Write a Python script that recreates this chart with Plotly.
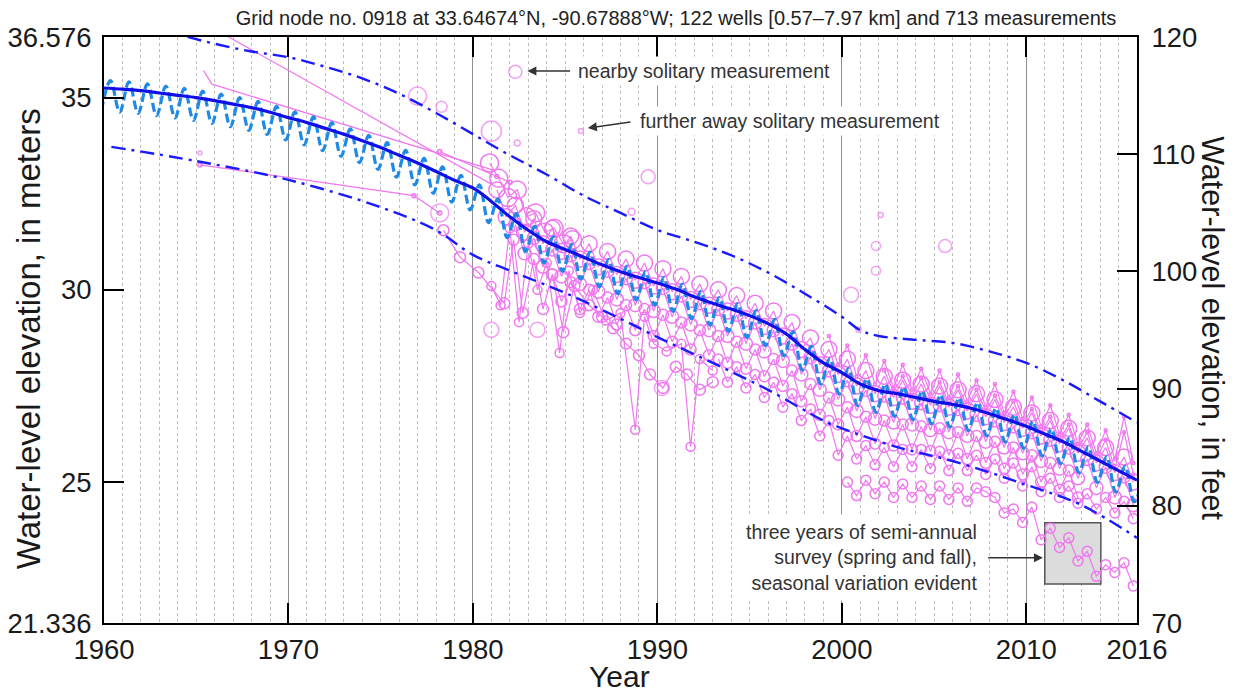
import plotly.graph_objects as go

# ---------------- axes ----------------
x_range = [1960, 2016]
x_tick_vals = [1960, 1970, 1980, 1990, 2000, 2010, 2016]
y_m_range = [21.336, 36.576]
y_m_tick_vals = [21.336, 25, 30, 35, 36.576]
y_m_tick_text = ["21.336", "25", "30", "35", "36.576"]
y_ft_range = [70, 120]
y_ft_tick_vals = [70, 80, 90, 100, 110, 120]

# ---------------- smooth trend (m) ----------------
trend_years = list(range(1960, 2017))
trend_vals = [35.25, 35.22, 35.18, 35.12, 35.06, 35.0, 34.92, 34.83, 34.74, 34.62,
              34.48, 34.35, 34.2, 34.05, 33.88, 33.7, 33.5, 33.3, 33.08, 32.85,
              32.65, 32.3, 31.9, 31.55, 31.25, 31.05, 30.85, 30.65, 30.47, 30.32,
              30.18, 30.02, 29.82, 29.65, 29.5, 29.33, 29.12, 28.85, 28.45, 28.1,
              27.85, 27.55, 27.38, 27.3, 27.2, 27.1, 27.02, 26.92, 26.78, 26.62,
              26.45, 26.25, 26.05, 25.8, 25.55, 25.3, 25.05]

# ---------------- seasonal curve: spring highs and fall lows ----------------
season_peak_years = list(range(1960, 2017))      # measured at year + 0.35
season_peak_vals = [35.44, 35.41, 35.36, 35.30, 35.24, 35.17, 35.09, 35.0, 34.9, 34.77,
                    34.63, 34.5, 34.35, 34.19, 34.02, 33.83, 33.63, 33.42, 33.2, 32.98,
                    32.73, 32.36, 31.98, 31.65, 31.38, 31.18, 30.98, 30.79, 30.62, 30.47,
                    30.32, 30.15, 29.96, 29.8, 29.64, 29.46, 29.23, 28.91, 28.53, 28.21,
                    27.95, 27.69, 27.55, 27.47, 27.37, 27.27, 27.19, 27.07, 26.92, 26.76,
                    26.58, 26.38, 26.16, 25.91, 25.66, 25.41, 25.16]
season_trough_years = list(range(1959, 2016))    # measured at year + 0.85
season_trough_vals = [34.65, 34.62, 34.59, 34.53, 34.47, 34.41, 34.33, 34.24, 34.15, 34.04,
                      33.90, 33.77, 33.62, 33.47, 33.31, 33.13, 32.93, 32.73, 32.51, 32.28,
                      32.08, 31.75, 31.36, 31.0, 30.7, 30.48, 30.28, 30.08, 29.9, 29.74,
                      29.6, 29.44, 29.25, 29.08, 28.92, 28.76, 28.55, 28.29, 27.91, 27.55,
                      27.29, 26.99, 26.81, 26.71, 26.62, 26.52, 26.43, 26.34, 26.2, 26.04,
                      25.88, 25.68, 25.48, 25.24, 24.99, 24.74, 24.49]

# ---------------- confidence bounds ----------------
upper_years = [1960, 1962, 1964, 1966, 1968, 1970, 1972, 1974, 1976, 1978, 1980, 1982,
               1984, 1986, 1988, 1990, 1992, 1994, 1996, 1998, 2000, 2001, 2002, 2004,
               2006, 2008, 2010, 2012, 2014, 2016]
upper_vals = [37.2, 36.95, 36.65, 36.4, 36.2, 36.05, 35.8, 35.5, 35.1, 34.6, 34.05, 33.5,
              33.0, 32.45, 32.0, 31.56, 31.25, 30.9, 30.45, 29.9, 29.3, 28.95, 28.8, 28.7,
              28.62, 28.4, 28.1, 27.65, 27.1, 26.55]
lower_years = [1960.4, 1965, 1970, 1975, 1978, 1980, 1982, 1985, 1988, 1990, 1993, 1996,
               1999, 2000, 2003, 2006, 2010, 2013, 2016]
lower_vals = [33.72, 33.35, 32.86, 32.15, 31.55, 30.91, 30.5, 29.92, 29.25, 28.77, 28.1,
              27.4, 26.6, 26.4, 25.91, 25.55, 24.93, 24.4, 23.55]

# ---------------- well records (semi-annual, first date + values) ----------------
w1_start = 1981.3
w1_vals = [32.6, 31.9, 32.2, 31.5, 31.85, 31.2, 31.6, 31.0, 31.4, 30.8, 31.2, 30.6,
           31.0, 30.4, 30.8, 30.25, 30.7, 30.1, 30.55, 29.95, 30.35, 29.75, 30.15, 29.6,
           30.0, 29.45, 29.85, 29.25, 29.65, 29.05, 29.45, 28.8, 29.15, 28.45, 28.75, 28.05,
           28.45, 27.8, 28.2, 27.5, 27.9, 27.3, 27.75, 27.2, 27.65, 27.1, 27.55, 27.0,
           27.5, 26.95, 27.4, 26.85, 27.3, 26.7, 27.15, 26.55, 26.95, 26.4, 26.8, 26.2,
           26.6, 26.0, 26.4, 25.75, 26.15, 25.5, 25.9, 25.25, 25.65, 25.0]
w2_start = 1999.3
w2_vals = [28.8, 28.05, 28.55, 27.75, 28.3, 27.55, 28.15, 27.45, 28.05, 27.4, 27.95, 27.3,
           27.9, 27.2, 27.8, 27.1, 27.65, 26.95, 27.55, 26.8, 27.35, 26.65, 27.2, 26.45,
           27.0, 26.25, 26.75, 26.0, 26.5, 25.75, 26.35, 25.6, 26.7, 25.5]
w2b_start = 2002.3
w2b_vals = [27.9, 27.35, 27.75, 27.25, 27.7, 27.15, 27.6, 27.05, 27.5, 26.95, 27.4, 26.85,
            27.25, 26.7, 27.1, 26.5, 26.9, 26.3, 26.7, 26.1, 26.5, 25.85, 26.3, 25.6,
            26.1, 25.35, 26.3, 25.2]
w3_start = 1982.3
w3_vals = [31.7, 30.95, 31.35, 30.6, 31.05, 30.35, 30.9, 30.15, 30.7, 29.95, 30.5, 29.75,
           30.3, 29.6, 30.2, 29.45, 30.05, 29.3, 29.85, 29.1, 29.65, 28.95, 29.5, 28.8,
           29.35, 28.6, 29.15, 28.4, 28.95, 28.15, 28.6, 27.8, 28.25, 27.4, 27.9, 27.15,
           27.65, 26.85, 27.4, 26.65, 27.25, 26.55, 27.2, 26.5, 27.05, 26.35, 27.0, 26.3,
           26.9, 26.2, 26.75, 26.05, 26.6, 25.9, 26.45, 25.75, 26.3, 25.55, 26.1, 25.35,
           25.9, 25.1, 25.6, 24.85, 25.4, 24.6, 25.15, 24.4]
w4_start = 1984.3
w4_vals = [30.4, 29.7, 30.2, 29.5, 30.0, 29.3, 29.8, 29.1, 29.6, 28.95, 29.5, 28.8,
           29.35, 28.65, 29.15, 28.45, 28.95, 28.3, 28.8, 28.1, 28.65, 27.95, 28.45, 27.75,
           28.2, 27.5, 27.9, 27.1, 27.55, 26.75, 27.2, 26.5, 26.95, 26.2, 26.7, 26.0,
           26.6, 25.95, 26.5, 25.85, 26.45, 25.8, 26.4, 25.7, 26.3, 25.6, 26.2, 25.5,
           26.05, 25.35, 25.9, 25.2, 25.7, 25.0, 25.5, 24.8, 25.3, 24.6]
w5_start = 1993.3
w5_vals = [28.2, 27.6, 28.0, 27.45, 27.8, 27.2, 27.6, 26.95, 27.3, 26.6, 26.9, 26.2,
           26.6, 25.7, 26.2, 25.6, 25.95, 25.45, 25.9, 25.4, 25.85, 25.4, 25.85, 25.35,
           25.8, 25.3, 25.75, 25.3, 25.7, 25.2, 25.6, 25.1, 25.5, 24.9, 25.4, 24.75,
           25.1, 24.6, 24.9, 24.45, 24.7, 24.3, 24.6, 24.2, 24.5, 24.05]
w6_start = 2000.3
w6_vals = [25.0, 24.65, 25.05, 24.7, 25.0, 24.6, 24.95, 24.6, 24.9, 24.55, 24.9, 24.55,
           24.85, 24.5, 24.85, 24.75, 24.6, 24.2, 24.3, 23.95, 24.35, 23.5, 23.8, 23.3,
           23.55, 22.95, 23.2, 22.55, 22.85, 22.65, 22.9, 22.3]

# ---------------- irregular well records ----------------
w7_years = [1981.0, 1981.5, 1982.0, 1982.5, 1983.0, 1983.5, 1984.0, 1984.7, 1985.2, 1985.8,
            1986.5, 1987.2, 1988.0, 1988.8, 1989.3, 1989.8, 1990.5, 1991.3, 1991.8, 1992.3,
            1993.0]
w7_vals = [30.1, 29.6, 31.6, 29.16, 31.2, 30.0, 30.7, 28.36, 30.5, 29.4, 30.0, 29.2, 29.4,
           26.36, 29.3, 28.6, 28.4, 28.6, 25.92, 28.2, 27.9]
w8_years = [1978.4, 1979.3, 1980.3, 1981.7, 1982.2, 1982.7, 1983.3, 1983.8, 1984.3, 1984.9,
            1985.5, 1986.3, 1987.0, 1987.6, 1988.3, 1989.0, 1989.6, 1990.3, 1991.0, 1991.6,
            1992.3, 1993.0]
w8_vals = [31.55, 30.85, 30.45, 29.65, 31.3, 29.4, 30.8, 29.5, 30.4, 28.9, 30.1, 29.6, 29.3,
           29.0, 28.6, 28.3, 27.8, 27.45, 28.0, 27.8, 27.4, 27.6]
w9_years = [1980.9, 1981.4, 1981.9, 1982.4, 1982.9, 1983.4, 1983.9, 1984.4, 1984.9, 1985.4]
w9_vals = [33.3, 32.9, 32.4, 32.6, 31.9, 32.0, 31.5, 31.6, 31.2, 31.3]

e1_years = [1966.3, 1981.0]
e1_vals = [36.7, 32.75]
e2_years = [1965.4, 1965.85, 1981.2]
e2_vals = [35.7, 35.35, 33.1]
e3_years = [1965.2, 1976.8, 1978.2]
e3_vals = [33.25, 32.45, 32.0]
e4_years = [1978.2, 1981.3, 1982.0]
e4_vals = [33.6, 32.95, 32.8]

solo_years = [1977.0, 1978.3, 1978.2, 1981.0, 1982.4, 1982.3, 1985.85, 1989.5, 1988.6,
              1981.0, 1983.5, 1990.25, 2000.5, 2001.85, 2001.85, 2002.1, 2005.6, 2000.9,
              1965.2]
solo_vals = [35.04, 34.76, 32.0, 34.13, 33.82, 35.67, 34.13, 32.94, 32.03,
             28.96, 28.96, 27.45, 29.87, 30.5, 31.14, 31.95, 31.14, 28.96, 33.56]
solo_sizes = [18, 11, 18, 20, 6, 13, 5, 14, 7, 15, 15, 15, 15, 9, 9, 5, 13, 5, 4]

# ---------------- styles ----------------
PINK = "#f077f0"
FONT = "Liberation Sans, Arial, Helvetica, sans-serif"
# the page body adds an 8 px offset; the figure is sized so the plot area lands
# at x 104..1137, y 37..623 of the 1241x692 window
FIG_W, FIG_H = 1233, 684

fig = go.Figure()


def semi(start, vals):
    return [round(start + 0.5 * i, 2) for i in range(len(vals))]


def add_well(xs, ys, size, mode="lines+markers", lw=1.2):
    fig.add_trace(go.Scatter(
        x=xs, y=ys, mode=mode,
        line=dict(color=PINK, width=lw),
        marker=dict(symbol="circle-open", size=size, color=PINK, line=dict(width=1.5)),
        hoverinfo="skip", showlegend=False))


add_well(e1_years, e1_vals, 3, mode="lines")
add_well(e2_years, e2_vals, 3, mode="lines")
add_well(e3_years, e3_vals, 4)
add_well(e4_years, e4_vals, 4)
add_well(semi(w2_start, w2_vals), w2_vals, 3)
add_well(semi(w2b_start, w2b_vals), w2b_vals, 3)
add_well(semi(w1_start, w1_vals), w1_vals, 16)
add_well(semi(w3_start, w3_vals), w3_vals, 13)
add_well(semi(w4_start, w4_vals), w4_vals, 11)
add_well(semi(w5_start, w5_vals), w5_vals, 10)
add_well(semi(w6_start, w6_vals), w6_vals, 10)
add_well(w7_years, w7_vals, 9)
add_well(w8_years, w8_vals, 11)
add_well(w9_years, w9_vals, 18)
fig.add_trace(go.Scatter(
    x=solo_years, y=solo_vals, mode="markers",
    marker=dict(symbol="circle-open", size=solo_sizes, color=PINK, line=dict(width=1.5)),
    hoverinfo="skip", showlegend=False))

# seasonal curve (interleave fall lows and spring highs)
season_x, season_y = [], []
for i in range(len(season_trough_vals)):
    season_x.append(season_trough_years[i] + 0.85)
    season_y.append(season_trough_vals[i])
    season_x.append(season_peak_years[i] + 0.35)
    season_y.append(season_peak_vals[i])
fig.add_trace(go.Scatter(
    x=season_x, y=season_y, mode="lines",
    line=dict(color="#1f8ae6", width=3.2, dash="9px,4px", shape="spline", smoothing=1.0),
    hoverinfo="skip", showlegend=False))

fig.add_trace(go.Scatter(
    x=trend_years, y=trend_vals, mode="lines",
    line=dict(color="#1010e6", width=3.2, shape="spline"),
    hoverinfo="skip", showlegend=False))

for bx, by in [(upper_years, upper_vals), (lower_years, lower_vals)]:
    fig.add_trace(go.Scatter(
        x=bx, y=by, mode="lines",
        line=dict(color="#1a1aff", width=2.4, dash="14px,6px,3px,6px", shape="spline"),
        hoverinfo="skip", showlegend=False))

# invisible trace to activate the feet axis
fig.add_trace(go.Scatter(x=[x_range[0]], y=[y_ft_range[0]], yaxis="y2", mode="markers",
                         marker=dict(opacity=0), hoverinfo="skip", showlegend=False))

# grey box marking the semi-annual survey
fig.add_shape(type="rect", x0=2011.0, x1=2014.04, y0=22.35, y1=23.94,
              xref="x", yref="y", layer="between",
              fillcolor="#dcdcdc", line=dict(color="#555555", width=1.5))

ann_font = dict(family=FONT, size=19.5, color="#333333")
fig.add_annotation(x=1985.48, y=35.69, text="nearby solitary measurement", showarrow=False,
                   xanchor="left", yanchor="middle", font=ann_font, bgcolor="white", borderpad=3)
fig.add_annotation(x=1982.95, y=35.69, ax=1985.35, ay=35.69, axref="x", ayref="y", text="",
                   showarrow=True, arrowhead=2, arrowsize=1.2, arrowwidth=1.5, arrowcolor="#333333")
fig.add_annotation(x=1988.83, y=34.39, text="further away solitary measurement", showarrow=False,
                   xanchor="left", yanchor="middle", font=ann_font, bgcolor="white", borderpad=3)
fig.add_annotation(x=1986.23, y=34.21, ax=1988.62, ay=34.37, axref="x", ayref="y", text="",
                   showarrow=True, arrowhead=2, arrowsize=1.2, arrowwidth=1.5, arrowcolor="#333333")
fig.add_annotation(x=2007.69, y=23.03,
                   text="three years of semi-annual<br>survey (spring and fall),<br>seasonal variation evident",
                   showarrow=False, xanchor="right", yanchor="middle", align="right",
                   font=ann_font, bgcolor="white", borderpad=6)
fig.add_annotation(x=2010.9, y=23.03, ax=2007.85, ay=23.03, axref="x", ayref="y", text="",
                   showarrow=True, arrowhead=2, arrowsize=1.2, arrowwidth=1.5, arrowcolor="#333333")

# axis titles
fig.add_annotation(xref="paper", yref="paper", x=-0.0736, y=0.486, text="Water-level elevation, in meters",
                   textangle=-90, showarrow=False, font=dict(family=FONT, size=33, color="#1a1a1a"),
                   xanchor="center", yanchor="middle")
fig.add_annotation(xref="paper", yref="paper", x=1.0736, y=0.503, text="Water-level elevation, in feet",
                   textangle=90, showarrow=False, font=dict(family=FONT, size=30.5, color="#1a1a1a"),
                   xanchor="center", yanchor="middle")
fig.add_annotation(xref="paper", yref="paper", x=0.4995, y=-0.091, text="Year",
                   showarrow=False, font=dict(family=FONT, size=30, color="#1a1a1a"),
                   xanchor="center", yanchor="middle")

tick_font = dict(family=FONT, size=27.5, color="#1a1a1a")
fig.update_layout(
    width=FIG_W, height=FIG_H, autosize=False,
    margin=dict(l=96, r=FIG_W - 1129, t=29, b=FIG_H - 615),
    paper_bgcolor="white", plot_bgcolor="white",
    showlegend=False,
    title=dict(text="Grid node no. 0918 at 33.64674°N, -90.67888°W; 122 wells [0.57–7.97 km] and 713 measurements",
               x=668 / FIG_W, xref="container", y=1 - 9.5 / FIG_H, yref="container",
               xanchor="center", yanchor="middle",
               font=dict(family=FONT, size=20, color="#222222")),
    xaxis=dict(range=x_range, tickmode="array", tickvals=x_tick_vals, ticks="inside", ticklen=20,
               tickwidth=2, tickcolor="black", showline=True, linewidth=2, linecolor="black",
               mirror="ticks", showgrid=True, gridcolor="#8f8f8f", gridwidth=1, zeroline=False,
               tickfont=tick_font, ticklabelstandoff=1, automargin=False,
               minor=dict(tickmode="linear", tick0=1960, dtick=1, showgrid=True, gridcolor="#bdbdbd",
                          griddash="dot", gridwidth=1, ticks="")),
    yaxis=dict(range=y_m_range, tickmode="array", tickvals=y_m_tick_vals, ticktext=y_m_tick_text,
               ticks="inside", ticklen=20, tickwidth=2, tickcolor="black", showline=True, linewidth=2,
               linecolor="black", showgrid=False, zeroline=False, tickfont=tick_font,
               ticklabelstandoff=5, automargin=False),
    yaxis2=dict(range=y_ft_range, tickmode="array", tickvals=y_ft_tick_vals, overlaying="y", side="right",
                ticks="inside", ticklen=20, tickwidth=2, tickcolor="black", showline=True, linewidth=2,
                linecolor="black", showgrid=False, zeroline=False, tickfont=tick_font,
                ticklabelstandoff=7, automargin=False),
)

fig.write_html("out.html")
